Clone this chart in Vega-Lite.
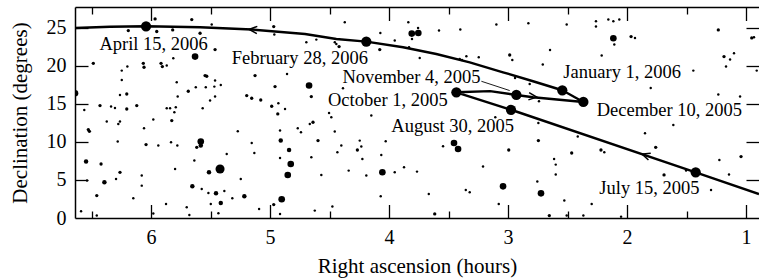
{
"$schema": "https://vega.github.io/schema/vega-lite/v6.json",
"width": 684, "height": 211,
"autosize": "none",
"padding": {"left": 75, "top": 7, "right": 0, "bottom": 62},
"background": "white",
"config": {"view": {"stroke": null}, "axis": {"grid": false, "domainColor": "black", "tickColor": "black", "labelColor": "black", "titleColor": "black", "labelFont": "Liberation Serif", "titleFont": "Liberation Serif", "labelFontSize": 20, "titleFontSize": 21, "titleFontWeight": "normal", "domainWidth": 1.5, "tickWidth": 1.3, "labelFlush": false, "labelOverlap": false}},
"datasets": {
"stars": [
{"ra":5.966,"dec":26.13,"m":2},{"ra":5.658,"dec":26.05,"m":2},{"ra":5.490,"dec":25.39,"m":1},{"ra":6.191,"dec":24.61,"m":2},{"ra":5.952,"dec":24.48,"m":2},{"ra":5.818,"dec":24.69,"m":2},{"ra":5.588,"dec":24.25,"m":2},{"ra":5.462,"dec":22.11,"m":2},{"ra":5.630,"dec":21.19,"m":4},{"ra":4.969,"dec":25.13,"m":2},
{"ra":4.964,"dec":24.08,"m":1},{"ra":6.485,"dec":20.31,"m":2},{"ra":6.246,"dec":19.35,"m":1},{"ra":6.199,"dec":19.88,"m":1},{"ra":6.065,"dec":20.31,"m":2},{"ra":6.059,"dec":19.79,"m":2},{"ra":5.916,"dec":20.31,"m":2},{"ra":5.905,"dec":19.88,"m":2},{"ra":5.868,"dec":20.01,"m":1},{"ra":5.813,"dec":20.97,"m":1},
{"ra":6.246,"dec":18.12,"m":1},{"ra":6.261,"dec":16.15,"m":1},{"ra":6.204,"dec":16.28,"m":2},{"ra":5.784,"dec":17.82,"m":1},{"ra":5.687,"dec":16.64,"m":2},{"ra":5.624,"dec":17.16,"m":1},{"ra":5.546,"dec":18.70,"m":2},{"ra":5.532,"dec":18.61,"m":2},{"ra":5.540,"dec":17.16,"m":1},{"ra":5.462,"dec":18.04,"m":1},
{"ra":5.414,"dec":17.46,"m":1},{"ra":5.468,"dec":17.25,"m":1},{"ra":5.776,"dec":15.94,"m":1},{"ra":5.504,"dec":15.42,"m":1},{"ra":5.462,"dec":15.94,"m":1},{"ra":5.126,"dec":18.70,"m":2},{"ra":4.857,"dec":18.91,"m":1},{"ra":4.958,"dec":17.25,"m":2},{"ra":5.196,"dec":16.07,"m":2},{"ra":5.154,"dec":15.72,"m":2},
{"ra":5.078,"dec":15.49,"m":2},{"ra":4.930,"dec":15.06,"m":1},{"ra":4.986,"dec":14.67,"m":2},{"ra":4.874,"dec":14.31,"m":1},{"ra":6.639,"dec":16.37,"m":4},{"ra":6.429,"dec":14.76,"m":2},{"ra":6.336,"dec":14.63,"m":1},{"ra":6.303,"dec":14.44,"m":1},{"ra":6.204,"dec":14.31,"m":2},{"ra":6.120,"dec":14.76,"m":2},
{"ra":5.868,"dec":14.40,"m":1},{"ra":5.840,"dec":14.40,"m":1},{"ra":5.792,"dec":14.54,"m":1},{"ra":5.566,"dec":14.40,"m":1},{"ra":6.561,"dec":14.18,"m":1},{"ra":6.527,"dec":11.61,"m":2},{"ra":6.518,"dec":11.38,"m":2},{"ra":6.372,"dec":12.66,"m":1},{"ra":6.275,"dec":12.34,"m":1},{"ra":6.261,"dec":12.66,"m":1},
{"ra":5.981,"dec":12.92,"m":1},{"ra":5.826,"dec":12.79,"m":2},{"ra":5.804,"dec":13.88,"m":1},{"ra":6.059,"dec":11.78,"m":1},{"ra":6.280,"dec":10.03,"m":1},{"ra":6.042,"dec":9.64,"m":2},{"ra":5.939,"dec":9.51,"m":1},{"ra":5.832,"dec":9.94,"m":1},{"ra":5.779,"dec":9.51,"m":1},{"ra":5.582,"dec":10.03,"m":4},
{"ra":5.616,"dec":9.28,"m":2},{"ra":5.582,"dec":9.51,"m":3},{"ra":6.546,"dec":7.41,"m":3},{"ra":6.420,"dec":7.09,"m":2},{"ra":6.261,"dec":6.00,"m":2},{"ra":6.294,"dec":5.12,"m":1},{"ra":6.392,"dec":4.69,"m":3},{"ra":6.538,"dec":4.91,"m":1},{"ra":6.078,"dec":5.57,"m":1},{"ra":6.078,"dec":4.25,"m":1},
{"ra":5.798,"dec":6.43,"m":1},{"ra":5.636,"dec":7.54,"m":1},{"ra":5.513,"dec":6.00,"m":3},{"ra":5.420,"dec":6.43,"m":5},{"ra":5.364,"dec":8.40,"m":1},{"ra":5.271,"dec":11.38,"m":1},{"ra":5.154,"dec":9.85,"m":1},{"ra":5.132,"dec":8.53,"m":1},{"ra":5.246,"dec":5.12,"m":1},{"ra":5.653,"dec":4.16,"m":3},
{"ra":5.574,"dec":3.81,"m":1},{"ra":5.518,"dec":3.28,"m":1},{"ra":5.454,"dec":3.24,"m":3},{"ra":5.384,"dec":3.55,"m":1},{"ra":5.317,"dec":2.59,"m":1},{"ra":5.216,"dec":2.85,"m":3},{"ra":5.414,"dec":1.97,"m":3},{"ra":5.498,"dec":1.84,"m":1},{"ra":5.700,"dec":1.41,"m":1},{"ra":5.874,"dec":1.84,"m":1},
{"ra":6.149,"dec":2.59,"m":1},{"ra":6.456,"dec":2.94,"m":2},{"ra":6.588,"dec":0.88,"m":1},{"ra":6.456,"dec":0.32,"m":1},{"ra":5.981,"dec":0.58,"m":1},{"ra":5.678,"dec":0.39,"m":1},{"ra":5.434,"dec":0.62,"m":1},{"ra":5.092,"dec":1.18,"m":1},{"ra":4.969,"dec":1.76,"m":2},{"ra":4.902,"dec":2.46,"m":4},
{"ra":4.916,"dec":0.53,"m":1},{"ra":4.935,"dec":13.66,"m":2},{"ra":4.916,"dec":11.48,"m":1},{"ra":4.910,"dec":10.16,"m":3},{"ra":4.840,"dec":8.93,"m":3},{"ra":4.916,"dec":7.88,"m":1},{"ra":4.826,"dec":7.09,"m":4},{"ra":4.851,"dec":5.65,"m":4},{"ra":4.767,"dec":11.78,"m":1},{"ra":4.740,"dec":11.25,"m":1},
{"ra":4.372,"dec":25.70,"m":1},{"ra":3.838,"dec":25.70,"m":1},{"ra":3.756,"dec":24.95,"m":1},{"ra":3.809,"dec":24.21,"m":4},{"ra":3.754,"dec":24.29,"m":4},{"ra":3.807,"dec":23.50,"m":1},{"ra":3.580,"dec":24.61,"m":1},{"ra":3.401,"dec":24.74,"m":1},{"ra":3.098,"dec":25.39,"m":1},{"ra":2.829,"dec":25.57,"m":1},
{"ra":4.073,"dec":24.29,"m":1},{"ra":3.952,"dec":23.29,"m":1},{"ra":3.832,"dec":22.41,"m":1},{"ra":4.078,"dec":22.11,"m":2},{"ra":3.742,"dec":21.01,"m":1},{"ra":4.695,"dec":23.07,"m":1},{"ra":4.611,"dec":23.42,"m":1},{"ra":4.456,"dec":23.07,"m":1},{"ra":4.443,"dec":22.85,"m":1},{"ra":4.420,"dec":22.51,"m":2},
{"ra":3.406,"dec":20.88,"m":1},{"ra":3.387,"dec":20.75,"m":1},{"ra":3.350,"dec":21.23,"m":1},{"ra":3.246,"dec":21.10,"m":1},{"ra":2.986,"dec":21.40,"m":2},{"ra":2.964,"dec":20.75,"m":1},{"ra":4.672,"dec":17.39,"m":4},{"ra":4.653,"dec":15.94,"m":2},{"ra":4.387,"dec":17.03,"m":1},{"ra":2.941,"dec":18.38,"m":1},
{"ra":2.818,"dec":17.60,"m":1},{"ra":2.740,"dec":15.32,"m":1},{"ra":2.507,"dec":25.39,"m":1},{"ra":2.261,"dec":25.83,"m":1},{"ra":2.261,"dec":25.13,"m":1},{"ra":2.157,"dec":26.05,"m":1},{"ra":2.115,"dec":25.83,"m":1},{"ra":2.065,"dec":26.05,"m":1},{"ra":2.115,"dec":23.60,"m":4},{"ra":2.107,"dec":22.77,"m":1},
{"ra":1.966,"dec":23.82,"m":2},{"ra":1.933,"dec":23.64,"m":1},{"ra":2.647,"dec":22.06,"m":1},{"ra":2.213,"dec":21.32,"m":1},{"ra":2.708,"dec":20.14,"m":1},{"ra":1.443,"dec":19.35,"m":1},{"ra":1.233,"dec":24.69,"m":2},{"ra":1.185,"dec":21.19,"m":2},{"ra":1.134,"dec":20.80,"m":1},{"ra":1.101,"dec":21.63,"m":1},
{"ra":1.168,"dec":19.88,"m":1},{"ra":0.952,"dec":23.64,"m":2},{"ra":0.933,"dec":23.73,"m":1},{"ra":0.910,"dec":19.35,"m":1},{"ra":1.801,"dec":17.07,"m":1},{"ra":1.233,"dec":16.20,"m":1},{"ra":1.050,"dec":15.94,"m":1},{"ra":4.666,"dec":12.34,"m":1},{"ra":4.639,"dec":12.57,"m":2},{"ra":4.485,"dec":13.22,"m":1},
{"ra":4.504,"dec":13.79,"m":1},{"ra":4.149,"dec":13.45,"m":1},{"ra":4.597,"dec":10.16,"m":2},{"ra":4.456,"dec":11.35,"m":1},{"ra":4.401,"dec":9.51,"m":1},{"ra":4.434,"dec":8.63,"m":1},{"ra":4.246,"dec":10.16,"m":1},{"ra":4.233,"dec":9.38,"m":1},{"ra":4.266,"dec":8.93,"m":2},{"ra":4.224,"dec":7.75,"m":1},
{"ra":4.028,"dec":10.07,"m":1},{"ra":4.065,"dec":8.27,"m":1},{"ra":4.653,"dec":7.97,"m":1},{"ra":4.569,"dec":5.65,"m":1},{"ra":4.339,"dec":6.22,"m":1},{"ra":4.191,"dec":5.57,"m":1},{"ra":4.056,"dec":6.00,"m":4},{"ra":3.952,"dec":6.00,"m":1},{"ra":3.874,"dec":6.66,"m":1},{"ra":3.765,"dec":6.09,"m":1},
{"ra":4.070,"dec":2.85,"m":1},{"ra":3.666,"dec":3.15,"m":1},{"ra":3.616,"dec":0.53,"m":2},{"ra":4.624,"dec":0.97,"m":1},{"ra":4.476,"dec":1.50,"m":1},{"ra":3.546,"dec":9.41,"m":1},{"ra":3.454,"dec":9.85,"m":4},{"ra":3.420,"dec":9.06,"m":4},{"ra":3.210,"dec":6.75,"m":1},{"ra":3.355,"dec":3.68,"m":1},
{"ra":3.322,"dec":3.38,"m":1},{"ra":3.042,"dec":4.16,"m":4},{"ra":3.078,"dec":1.84,"m":1},{"ra":2.994,"dec":8.93,"m":2},{"ra":3.107,"dec":13.22,"m":1},{"ra":2.745,"dec":12.47,"m":1},{"ra":2.745,"dec":10.16,"m":2},{"ra":2.414,"dec":10.69,"m":1},{"ra":2.465,"dec":8.53,"m":2},{"ra":2.219,"dec":8.93,"m":2},
{"ra":2.191,"dec":8.63,"m":1},{"ra":2.613,"dec":7.75,"m":1},{"ra":2.599,"dec":7.01,"m":1},{"ra":2.599,"dec":5.70,"m":1},{"ra":2.754,"dec":4.78,"m":1},{"ra":2.723,"dec":3.24,"m":4},{"ra":2.527,"dec":2.29,"m":1},{"ra":2.297,"dec":1.84,"m":1},{"ra":2.653,"dec":0.32,"m":2},{"ra":2.507,"dec":0.32,"m":1},
{"ra":2.367,"dec":0.32,"m":1},{"ra":2.050,"dec":0.18,"m":1},{"ra":1.849,"dec":11.12,"m":1},{"ra":1.611,"dec":12.21,"m":1},{"ra":1.759,"dec":9.28,"m":2},{"ra":1.689,"dec":5.65,"m":2},{"ra":1.504,"dec":6.22,"m":1},{"ra":1.294,"dec":3.68,"m":1},{"ra":1.224,"dec":7.62,"m":1},{"ra":1.143,"dec":5.70,"m":1},
{"ra":1.042,"dec":8.06,"m":2}
],
"path": [
{"o":0,"ra":0.891,"dec":3.15},{"o":1,"ra":1.423,"dec":6.0},{"o":2,"ra":2.975,"dec":14.21},{"o":3,"ra":3.434,"dec":16.5},{"o":4,"ra":3.151,"dec":16.66},{"o":5,"ra":2.930,"dec":16.15},{"o":6,"ra":2.790,"dec":15.85},{"o":7,"ra":2.367,"dec":15.23},{"o":8,"ra":2.544,"dec":16.77},{"o":9,"ra":2.790,"dec":17.95},{"o":10,"ra":3.042,"dec":19.13},{"o":11,"ra":3.322,"dec":20.44},{"o":12,"ra":3.603,"dec":21.53},{"o":13,"ra":3.882,"dec":22.41},{"o":14,"ra":4.191,"dec":23.16},{"o":15,"ra":4.443,"dec":23.5},{"o":16,"ra":4.706,"dec":24.16},{"o":17,"ra":5.154,"dec":24.74},{"o":18,"ra":5.588,"dec":25.04},{"o":19,"ra":6.042,"dec":25.17},{"o":20,"ra":6.345,"dec":25.1},{"o":21,"ra":6.639,"dec":24.95}
],
"dates": [
{"label":"July 15, 2005","ra":1.423,"dec":6.0,"lra":2.233,"ldec":3.11},
{"label":"August 30, 2005","ra":2.975,"dec":14.21,"lra":3.981,"ldec":11.32},
{"label":"October 1, 2005","ra":3.434,"dec":16.5,"lra":4.513,"ldec":14.67},
{"label":"November 4, 2005","ra":2.930,"dec":16.15,"lra":4.392,"ldec":17.69},
{"label":"December 10, 2005","ra":2.367,"dec":15.23,"lra":2.255,"ldec":13.35},
{"label":"January 1, 2006","ra":2.544,"dec":16.77,"lra":2.535,"ldec":18.41},
{"label":"February 28, 2006","ra":4.191,"dec":23.16,"lra":5.322,"ldec":20.25},
{"label":"April 15, 2006","ra":6.042,"dec":25.17,"lra":6.434,"ldec":22.09}
],
"arrows": [
{"ra":1.874,"dec":8.39,"ang":18.5},{"ra":2.759,"dec":15.87,"ang":186},{"ra":5.176,"dec":24.75,"ang":3.7}
],
"leader": [
{"ra":3.224,"dec":17.95,"ra2":2.986,"dec2":16.73}
]
},
"layer": [
{"data": {"name": "stars"},
 "mark": {"type": "circle", "color": "black", "opacity": 1, "clip": true},
 "encoding": {
  "x": {"field": "ra", "type": "quantitative", "scale": {"domain": [0.891, 6.639], "reverse": true, "nice": false, "zero": false},
        "axis": {"orient": "bottom", "values": [1,2,3,4,5,6], "ticks": false, "labelPadding": 9, "title": "Right ascension (hours)", "titleY": 54.3, "titleBaseline": "alphabetic", "domain": true}},
  "y": {"field": "dec", "type": "quantitative", "scale": {"domain": [0, 27.7], "nice": false, "zero": false},
        "axis": {"orient": "left", "values": [0,5,10,15,20,25], "ticks": false, "labelPadding": 9, "title": "Declination (degrees)", "titleX": -48.3, "titleY": 105.5, "titleAngle": -90, "titleBaseline": "alphabetic", "domain": true}},
  "size": {"field": "m", "type": "quantitative", "scale": {"type": "threshold", "domain": [1.5, 2.5, 3.5, 4.5], "range": [6, 11, 20, 44, 82]}, "legend": null}
 }},
{"data": {"name": "path"},
 "mark": {"type": "line", "color": "black", "strokeWidth": 2.4, "clip": true, "strokeJoin": "round"},
 "encoding": {
  "x": {"field": "ra", "type": "quantitative", "axis": {"orient": "bottom", "values": [1,2,3,4,5,6], "labels": false, "domain": false, "tickSize": -13.5, "title": null}},
  "y": {"field": "dec", "type": "quantitative", "axis": {"orient": "left", "values": [5,10,15,20,25], "labels": false, "domain": false, "tickSize": -13, "title": null}},
  "order": {"field": "o", "type": "quantitative"}
 }},
{"data": {"name": "leader"},
 "mark": {"type": "rule", "color": "black", "strokeWidth": 0.9},
 "encoding": {
  "x": {"field": "ra", "type": "quantitative", "axis": {"orient": "bottom", "values": [1.5,2.5,3.5,4.5,5.5,6.5], "labels": false, "domain": false, "tickSize": -7, "title": null}},
  "x2": {"field": "ra2"},
  "y": {"field": "dec", "type": "quantitative", "axis": {"orient": "right", "values": [5,10,15,20,25], "labels": false, "domain": false, "tickSize": -13, "title": null}},
  "y2": {"field": "dec2"}
 }},
{"data": {"name": "dates"},
 "mark": {"type": "circle", "color": "black", "opacity": 1, "size": 105},
 "encoding": {
  "x": {"field": "ra", "type": "quantitative", "axis": {"orient": "top", "values": [1,2,3,4,5,6], "labels": false, "domain": true, "tickSize": -13.5, "title": null}},
  "y": {"field": "dec", "type": "quantitative", "axis": null}
 }},
{"data": {"name": "arrows"},
 "mark": {"type": "point", "shape": "M1,-0.45L0,0L1,0.45", "filled": false, "color": "black", "strokeWidth": 1.5, "opacity": 1, "size": 256},
 "encoding": {
  "x": {"field": "ra", "type": "quantitative", "axis": {"orient": "top", "values": [1.5,2.5,3.5,4.5,5.5,6.5], "labels": false, "domain": false, "tickSize": -7, "title": null}},
  "y": {"field": "dec", "type": "quantitative", "axis": null},
  "angle": {"field": "ang", "type": "quantitative", "scale": null}
 }},
{"data": {"name": "dates"},
 "mark": {"type": "text", "align": "left", "baseline": "alphabetic", "font": "Liberation Serif", "fontSize": 18.5, "color": "black"},
 "encoding": {
  "x": {"field": "lra", "type": "quantitative", "axis": null},
  "y": {"field": "ldec", "type": "quantitative", "axis": null},
  "text": {"field": "label"}
 }}
],
"resolve": {"axis": {"x": "independent", "y": "independent"}}
}
